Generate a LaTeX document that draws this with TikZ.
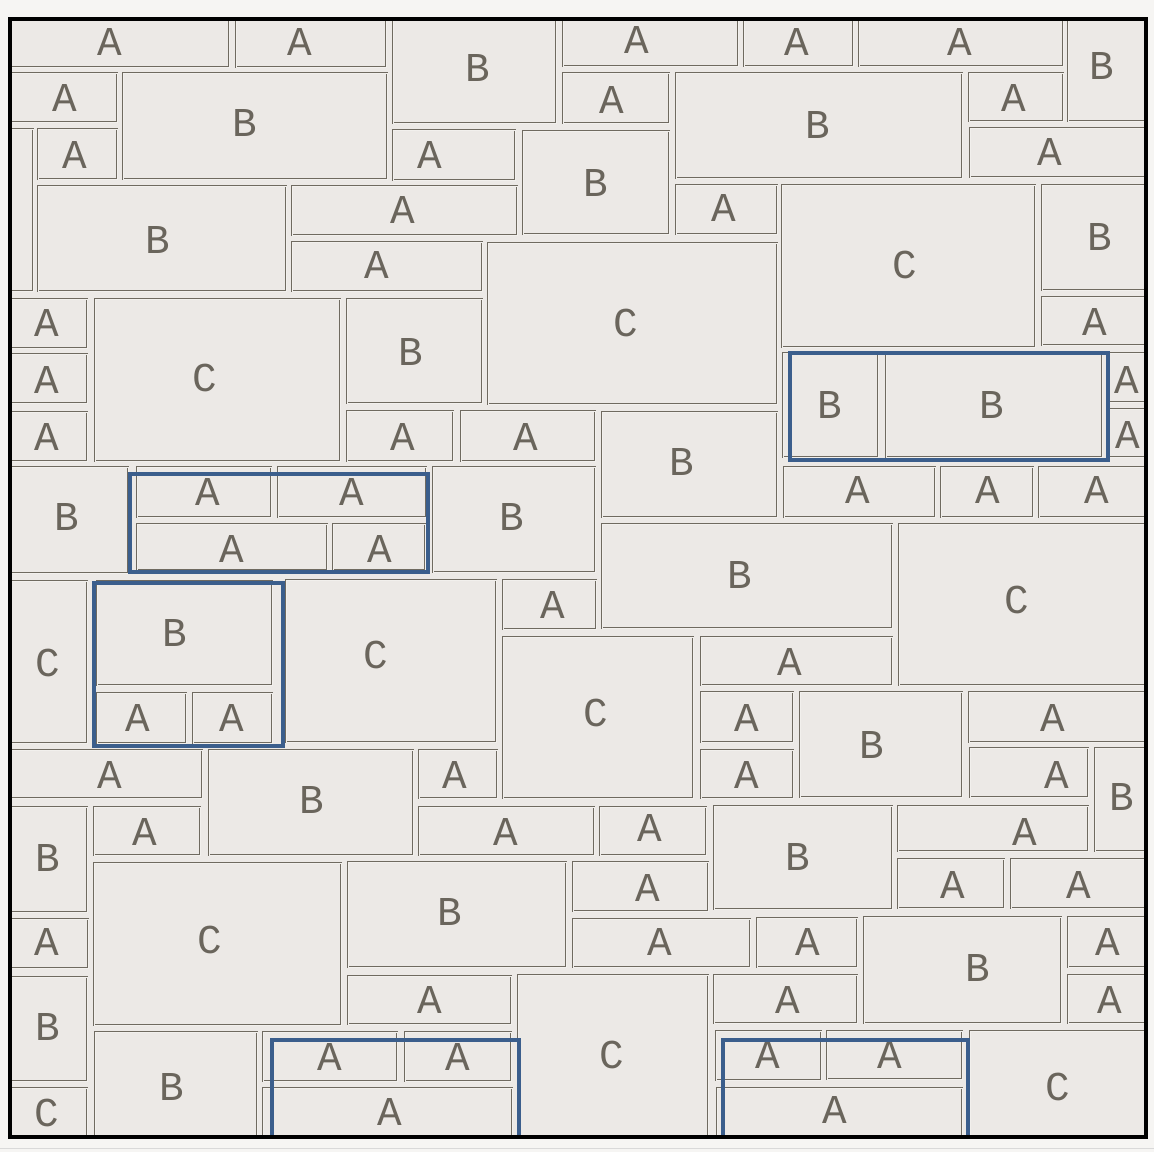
\documentclass[tikz,border=0pt]{standalone}
\usepackage{fontspec}
\newfontfamily\stonefont{Liberation Mono}
\definecolor{bg}{HTML}{ECE9E6}
\definecolor{outerbg}{HTML}{F6F5F3}
\definecolor{stoneline}{HTML}{6F6A60}
\definecolor{labcol}{HTML}{6A655C}
\definecolor{bluebox}{HTML}{3B5E8C}
\newcounter{stc}
\newcommand\St[7]{\stepcounter{stc}\draw[stone] (#1,#2) rectangle (#3,#4); \node[lab] (L\arabic{stc}) at (#6,#7) {#5};}
\newcommand\Sx[4]{\stepcounter{stc}\draw[stone] (#1,#2) rectangle (#3,#4);}
\tikzset{
  stone/.style={draw=stoneline, line width=0.9pt, double=bg!70!white, double distance=0.9pt},
  lab/.style={text=labcol, font=\stonefont\fontsize{41}{41}\selectfont, inner sep=0pt},
  bluemark/.style={draw=bluebox, line width=4pt},
  frame/.style={draw=black, line width=4pt}
}
\begin{document}
\begin{tikzpicture}[x=1pt,y=-1pt]
\useasboundingbox (0,0) rectangle (1154,1152);
\fill[outerbg] (0,0) rectangle (1154,1152);
\fill[bg] (10,19) rectangle (1146,1137);
\begin{scope}
\clip (10,19) rectangle (1146,1137);
\St{10}{17}{229}{67}{A}{110}{42}
\St{236}{17}{386}{67}{A}{300}{42}
\St{393}{17}{556}{123}{B}{478}{68}
\St{563}{17}{738}{66}{A}{637}{40}
\St{744}{17}{853}{66}{A}{797}{42}
\St{859}{17}{1063}{66}{A}{960}{42}
\St{1068}{17}{1148}{121}{B}{1102}{66}
\St{10}{73}{117}{122}{A}{65}{98}
\St{123}{73}{387}{179}{B}{245}{123}
\St{38}{129}{117}{179}{A}{75}{155}
\Sx{10}{129}{33}{291}
\St{393}{130}{515}{180}{A}{430}{155}
\St{563}{73}{669}{123}{A}{612}{100}
\St{523}{131}{669}{234}{B}{596}{183}
\St{676}{73}{962}{178}{B}{818}{125}
\St{969}{73}{1063}{121}{A}{1014}{98}
\St{970}{128}{1148}{177}{A}{1050}{152}
\St{38}{186}{286}{291}{B}{158}{240}
\St{292}{186}{517}{235}{A}{403}{210}
\St{292}{242}{482}{291}{A}{377}{265}
\St{676}{185}{777}{234}{A}{724}{208}
\St{488}{243}{777}{404}{C}{626}{323}
\St{782}{185}{1035}{347}{C}{905}{265}
\St{1042}{185}{1148}{290}{B}{1100}{237}
\St{1042}{297}{1148}{345}{A}{1095}{322}
\St{10}{299}{87}{348}{A}{47}{323}
\St{10}{354}{87}{403}{A}{47}{380}
\St{10}{412}{87}{461}{A}{47}{437}
\St{95}{299}{340}{461}{C}{205}{378}
\St{347}{299}{482}{403}{B}{411}{352}
\St{347}{411}{453}{461}{A}{403}{437}
\St{461}{411}{595}{461}{A}{526}{437}
\St{602}{412}{777}{517}{B}{682}{462}
\St{783}{353}{878}{457}{B}{830}{405}
\St{886}{353}{1102}{457}{B}{992}{405}
\St{1108}{353}{1148}{402}{A}{1127}{380}
\St{1108}{409}{1148}{457}{A}{1128}{435}
\St{10}{467}{128}{573}{B}{67}{517}
\St{137}{467}{271}{517}{A}{208}{492}
\St{278}{467}{426}{517}{A}{352}{492}
\St{137}{524}{327}{570}{A}{232}{549}
\St{333}{524}{425}{570}{A}{380}{549}
\St{433}{467}{595}{572}{B}{512}{517}
\St{784}{467}{935}{517}{A}{858}{490}
\St{941}{467}{1033}{517}{A}{988}{490}
\St{1039}{467}{1148}{517}{A}{1097}{490}
\St{602}{524}{892}{628}{B}{740}{575}
\St{899}{524}{1148}{685}{C}{1017}{600}
\St{503}{580}{596}{629}{A}{553}{605}
\St{10}{581}{87}{743}{C}{48}{663}
\St{97}{581}{272}{685}{B}{175}{633}
\St{97}{693}{186}{743}{A}{138}{718}
\St{193}{693}{272}{743}{A}{232}{718}
\St{286}{580}{496}{742}{C}{376}{655}
\St{503}{637}{693}{798}{C}{596}{713}
\St{701}{637}{892}{685}{A}{790}{662}
\St{701}{692}{793}{742}{A}{747}{718}
\St{701}{750}{793}{798}{A}{747}{775}
\St{800}{692}{962}{797}{B}{872}{745}
\St{969}{692}{1148}{742}{A}{1053}{718}
\St{970}{748}{1088}{797}{A}{1057}{775}
\St{1095}{748}{1148}{851}{B}{1122}{797}
\St{10}{750}{202}{798}{A}{110}{775}
\St{209}{750}{413}{855}{B}{312}{800}
\St{419}{750}{497}{798}{A}{455}{775}
\St{10}{807}{87}{912}{B}{48}{858}
\St{94}{807}{200}{855}{A}{145}{832}
\St{419}{807}{594}{855}{A}{506}{832}
\St{600}{807}{706}{855}{A}{650}{828}
\St{714}{806}{892}{909}{B}{798}{857}
\St{898}{806}{1088}{851}{A}{1025}{832}
\St{94}{863}{341}{1025}{C}{210}{940}
\St{10}{919}{88}{968}{A}{47}{942}
\St{10}{977}{87}{1081}{B}{48}{1027}
\St{10}{1088}{87}{1140}{C}{47}{1113}
\St{95}{1032}{257}{1140}{B}{172}{1087}
\St{263}{1032}{397}{1081}{A}{330}{1057}
\St{405}{1032}{511}{1081}{A}{458}{1057}
\St{263}{1088}{512}{1140}{A}{390}{1112}
\St{348}{862}{566}{967}{B}{450}{912}
\St{348}{976}{511}{1024}{A}{430}{1000}
\St{573}{862}{708}{911}{A}{648}{888}
\St{573}{919}{750}{967}{A}{660}{942}
\St{757}{918}{857}{967}{A}{808}{942}
\St{518}{975}{708}{1140}{C}{612}{1055}
\St{714}{975}{857}{1023}{A}{788}{1000}
\St{716}{1031}{821}{1080}{A}{768}{1055}
\St{827}{1031}{962}{1079}{A}{890}{1055}
\St{717}{1088}{962}{1140}{A}{835}{1110}
\St{898}{859}{1004}{908}{A}{953}{885}
\St{1011}{859}{1148}{908}{A}{1079}{885}
\St{864}{917}{1061}{1023}{B}{978}{968}
\St{1068}{917}{1148}{967}{A}{1108}{942}
\St{1068}{975}{1148}{1023}{A}{1110}{1000}
\St{970}{1031}{1148}{1140}{C}{1058}{1087}
\end{scope}
% highlighted groups
\draw[bluemark] (790,353) rectangle (1108,460);
\draw[bluemark] (130,474) rectangle (428,572);
\draw[bluemark] (94,583) rectangle (283,746);
\draw[bluemark] (272,1040) rectangle (519,1137);
\draw[bluemark] (723,1040) rectangle (968,1137);
% outer frame
\draw[frame] (10,19) rectangle (1146,1137);
\draw[black!15, line width=1pt] (0,1148) -- (1154,1148);
\end{tikzpicture}
\end{document}
